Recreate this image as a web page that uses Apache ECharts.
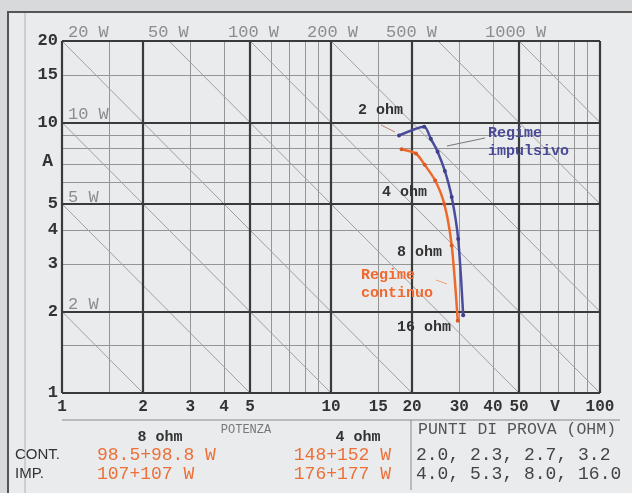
<!DOCTYPE html>
<html><head><meta charset="utf-8">
<script src="https://cdn.jsdelivr.net/npm/echarts@6/dist/echarts.min.js"></script>
<style>html,body{margin:0;padding:0;background:#d8d9db;} #c{width:632px;height:493px;}</style>
</head><body><div id="c"></div>
<script>
// ---- data ----
const xTickValues = [1, 2, 3, 4, 5, 10, 15, 20, 30, 40, 50, 100];
const yTickValues = [1, 2, 3, 4, 5, 10, 15, 20];
const xUnitPos = 68;          // where the "V" unit label sits on the x axis
const yUnitPos = 7.2;         // where the "A" unit label sits on the y axis
const xMajor = [1, 2, 5, 10, 20, 50, 100];
const xMinor = [1.5, 3, 4, 6, 7, 8, 9, 15, 30, 40, 60, 70, 80, 90];
const yMajor = [1, 2, 5, 10, 20];
const yMinor = [1.5, 3, 4, 6, 7, 8, 9, 15];
const powerLevels = [2, 5, 10, 20, 50, 100, 200, 500, 1000];
const topPowerLabels = ['20 W', '50 W', '100 W', '200 W', '500 W', '1000 W'];
const leftPowerLabels = ['10 W', '5 W', '2 W'];
// impulsive regime, test loads 2.0 ... 16 ohm
const voltsImp = [17.9, 22.2, 23.5, 24.9, 26.5, 28.1, 29.7, 31.0];
const ampsImp  = [8.95, 9.65, 8.7, 7.8, 6.62, 5.3, 3.71, 1.94];
// continuous regime, test loads 2.3 ... 16 ohm
const voltsCont = [18.3, 20.7, 22.3, 24.4, 26.4, 28.1, 29.6];
const ampsCont  = [7.96, 7.67, 6.97, 6.1, 4.98, 3.51, 1.85];
// table
const tableHead = ['8 ohm', 'POTENZA', '4 ohm', 'PUNTI DI PROVA (OHM)'];
const rowNames = ['CONT.', 'IMP.'];
const power8 = ['98.5+98.8 W', '107+107 W'];
const power4 = ['148+152 W', '176+177 W'];
const testPoints = ['2.0, 2.3, 2.7, 3.2', '4.0, 5.3, 8.0, 16.0'];

// ---- build ----
const chart = echarts.init(document.getElementById('c'), null, {renderer: 'canvas'});
const MONO = '"Liberation Mono", "Courier New", monospace';
const NARROW = '"Liberation Sans Narrow", "Arial Narrow", "Liberation Sans", sans-serif';

function powerLine(w) {
  const p1 = w <= 20 ? [1, w] : [w / 20, 20];
  const p2 = w <= 100 ? [w, 1] : [100, w / 100];
  return {coords: [p1, p2]};
}

const majorData = xMajor.map(v => ({coords: [[v, 1], [v, 20]]}))
  .concat(yMajor.map(v => ({coords: [[1, v], [100, v]]})));
const minorData = xMinor.map(v => ({coords: [[v, 1], [v, 20]]}))
  .concat(yMinor.map(v => ({coords: [[1, v], [100, v]]})));

function txt(text, x, y, font, fill, align) {
  return {type: 'text', silent: true, z: 50,
    style: {text: text, x: x, y: y, font: font, fill: fill,
      align: align || 'left', textAlign: align || 'left',
      verticalAlign: 'middle', textVerticalAlign: 'middle'}};
}
function seg(x1, y1, x2, y2, color, w) {
  return {type: 'line', silent: true, z: 40,
    shape: {x1: x1, y1: y1, x2: x2, y2: y2}, style: {stroke: color, lineWidth: w || 1}};
}

const topLabelX = [68, 148, 228, 307, 386, 485];
const leftLabelY = [114, 197, 304];

const graphics = [
  {type: 'rect', z: -10, silent: true, shape: {x: 8, y: 12, width: 630, height: 490},
    style: {fill: '#eaebed', stroke: '#555', lineWidth: 2}},
  seg(25, 13, 25, 493, '#b0b0b0', 1),
  seg(62, 420, 620, 420, '#888', 1),
  seg(411, 420, 411, 490, '#888', 1),
  txt(tableHead[0], 160, 437, 'bold 15px ' + MONO, '#333', 'center'),
  txt(tableHead[1], 246, 430, '12px ' + MONO, '#777', 'center'),
  txt(tableHead[2], 358, 437, 'bold 15px ' + MONO, '#333', 'center'),
  txt(tableHead[3], 418, 430, '16.5px ' + MONO, '#555', 'left'),
  txt(rowNames[0], 15, 455, '15px ' + NARROW, '#333', 'left'),
  txt(rowNames[1], 15, 474, '15px ' + NARROW, '#333', 'left'),
  txt(power8[0], 97, 455, '18px ' + MONO, '#ec7038', 'left'),
  txt(power8[1], 97, 474, '18px ' + MONO, '#ec7038', 'left'),
  txt(power4[0], 391, 455, '18px ' + MONO, '#ec7038', 'right'),
  txt(power4[1], 391, 474, '18px ' + MONO, '#ec7038', 'right'),
  txt(testPoints[0], 416, 455, '18px ' + MONO, '#444', 'left'),
  txt(testPoints[1], 416, 474, '18px ' + MONO, '#444', 'left'),
  // curve annotations
  txt('2 ohm', 358, 110, 'bold 15px ' + MONO, '#333', 'left'),
  txt('4 ohm', 382, 192, 'bold 15px ' + MONO, '#333', 'left'),
  txt('8 ohm', 397, 252, 'bold 15px ' + MONO, '#333', 'left'),
  txt('16 ohm', 397, 327, 'bold 15px ' + MONO, '#333', 'left'),
  txt('Regime', 488, 133, 'bold 15px ' + MONO, '#4a4a96', 'left'),
  txt('impulsivo', 488, 151, 'bold 15px ' + MONO, '#4a4a96', 'left'),
  txt('Regime', 361, 275, 'bold 15px ' + MONO, '#f06a30', 'left'),
  txt('continuo', 361, 293, 'bold 15px ' + MONO, '#f06a30', 'left'),
  seg(381, 125, 395, 132, '#c08070', 1),
  seg(447, 146, 485, 138, '#777', 1),
  seg(436, 280, 447, 284, '#f0a070', 1)
];
topPowerLabels.forEach((t, i) => graphics.push(txt(t, topLabelX[i], 32, '17px ' + MONO, '#8c8c8c', 'left')));
leftPowerLabels.forEach((t, i) => graphics.push(txt(t, 68, leftLabelY[i], '17px ' + MONO, '#8c8c8c', 'left')));

const option = {
  backgroundColor: 'transparent',
  animation: false,
  grid: {left: 62, right: 32, top: 41, bottom: 100, containLabel: false},
  xAxis: {
    type: 'log', logBase: 10, min: 1, max: 100,
    splitLine: {show: false}, axisLine: {show: false}, axisTick: {show: false},
    minorTick: {show: false}, minorSplitLine: {show: false},
    axisLabel: {
      customValues: xTickValues.concat([xUnitPos]),
      formatter: v => (Math.abs(v - xUnitPos) < 1e-6 ? 'V' : String(v)),
      margin: 6, color: '#333', fontFamily: MONO, fontWeight: 'bold', fontSize: 16
    }
  },
  yAxis: {
    type: 'log', logBase: 10, min: 1, max: 20,
    splitLine: {show: false}, axisLine: {show: false}, axisTick: {show: false},
    minorTick: {show: false}, minorSplitLine: {show: false},
    axisLabel: {
      customValues: yTickValues.concat([yUnitPos]),
      formatter: v => (Math.abs(v - yUnitPos) < 1e-6 ? '{a|A}' : String(v)),
      margin: 4, color: '#333', fontFamily: MONO, fontWeight: 'bold', fontSize: 17,
      rich: {a: {fontFamily: MONO, fontWeight: 'bold', fontSize: 18, color: '#333', padding: [0, 5, 0, 0]}}
    }
  },
  graphic: graphics,
  series: [
    {type: 'lines', coordinateSystem: 'cartesian2d', polyline: false, silent: true, clip: false, z: 1,
      lineStyle: {color: '#959595', width: 1, opacity: 1}, data: minorData},
    {type: 'lines', coordinateSystem: 'cartesian2d', polyline: false, silent: true, clip: false, z: 2,
      lineStyle: {color: '#a0a0a0', width: 1, opacity: 1}, data: powerLevels.map(powerLine)},
    {type: 'lines', coordinateSystem: 'cartesian2d', polyline: false, silent: true, clip: false, z: 3,
      lineStyle: {color: '#3a3a3a', width: 2.2, opacity: 1}, data: majorData},
    {type: 'line', name: 'Regime impulsivo', z: 10, smooth: 0.25,
      data: voltsImp.map((v, i) => [v, ampsImp[i]]),
      symbol: 'circle', symbolSize: 4,
      lineStyle: {color: '#4b4d9c', width: 2.5}, itemStyle: {color: '#3d3f8a'}},
    {type: 'line', name: 'Regime continuo', z: 9, smooth: 0.25,
      data: voltsCont.map((v, i) => [v, ampsCont[i]]),
      symbol: 'circle', symbolSize: 4,
      lineStyle: {color: '#ee6a2c', width: 2.5}, itemStyle: {color: '#d85a25'}}
  ]
};
chart.setOption(option);
</script>
</body></html>
